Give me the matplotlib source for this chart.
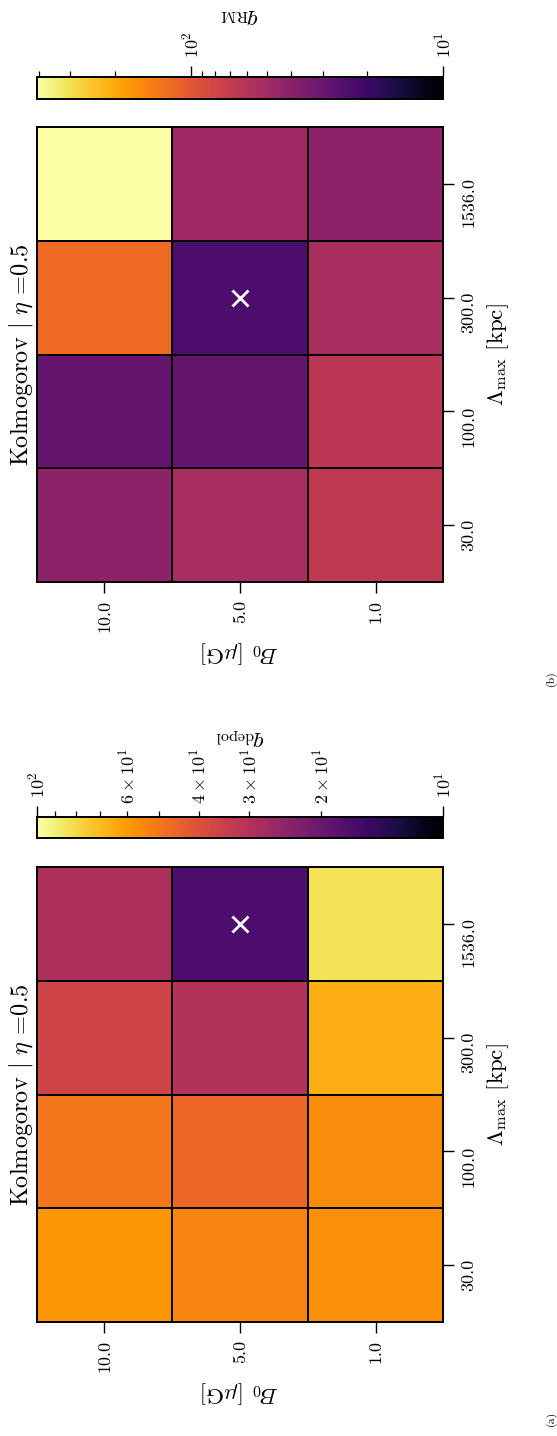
import numpy as np
import matplotlib
matplotlib.use("Agg")
import matplotlib.pyplot as plt
from matplotlib.colors import LogNorm

plt.rcParams["font.family"] = "serif"
plt.rcParams["font.serif"] = ["cmr10", "DejaVu Serif"]
plt.rcParams["mathtext.fontset"] = "cm"
plt.rcParams["axes.formatter.use_mathtext"] = True

b0_labels = ["10.0", "5.0", "1.0"]
lambda_labels = ["30.0", "100.0", "300.0", "1536.0"]

# rows: B0 = 10, 5, 1 muG ; columns: Lambda_max = 30, 100, 300, 1536 kpc
q_depol = np.array([
    [59.0, 50.0, 36.0, 29.0],
    [54.0, 46.0, 30.0, 17.0],
    [57.0, 56.0, 66.0, 83.0],
])
q_rm = np.array([
    [41.0, 29.0, 120.0, 408.0],
    [53.0, 28.8, 23.5, 49.0],
    [66.0, 64.0, 53.0, 41.0],
])

W, H = 557, 1436
fig = plt.figure(figsize=(W / 100, H / 100), dpi=100)


def box(x0, y0, x1, y1):
    # pixel box (from top-left) -> figure fraction
    return [x0 / W, 1 - y1 / H, (x1 - x0) / W, (y1 - y0) / H]


def panel(top, q, vmin, vmax, qlabel, tag):
    left, right = 36.7, 443.3
    bottom = top + 455.6
    ax = fig.add_axes(box(left, top, right, bottom))
    cax = fig.add_axes(box(left, top - 50.2, right, top - 28.2))

    norm = LogNorm(vmin=vmin, vmax=vmax)
    grid = q.T  # rows -> Lambda_max (bottom to top), columns -> B0
    mesh = ax.pcolormesh(np.arange(grid.shape[1] + 1), np.arange(grid.shape[0] + 1),
                         grid, cmap="inferno", norm=norm,
                         edgecolors="k", linewidth=1.2)

    # best-fit cell
    ib, il = np.unravel_index(np.argmin(q), q.shape)
    ax.plot(ib + 0.5, il + 0.5, "x", color="white", ms=12, mew=2)

    ax.set_xlim(0, grid.shape[1])
    ax.set_ylim(0, grid.shape[0])
    ax.set_xticks(np.arange(grid.shape[1]) + 0.5, b0_labels)
    ax.set_yticks(np.arange(grid.shape[0]) + 0.5, lambda_labels)
    ax.yaxis.tick_right()
    ax.yaxis.set_label_position("right")
    ax.tick_params(length=8, width=1.0, labelsize=13, pad=5, labelrotation=90)
    for s in ax.spines.values():
        s.set_linewidth(1.4)
    ax.set_xlabel(r"$B_0$ [$\mu$G]", fontsize=16.5, rotation=180, labelpad=5)
    ax.set_ylabel(r"$\Lambda_{\max}$ [kpc]", fontsize=16.5, rotation=90, labelpad=6)

    cb = fig.colorbar(mesh, cax=cax, orientation="horizontal")
    cax.invert_xaxis()
    cax.xaxis.set_ticks_position("top")
    cax.xaxis.set_label_position("top")
    cax.tick_params(axis="x", which="major", length=8, width=1.0, labelsize=13,
                    pad=5, labelrotation=90)
    cax.tick_params(axis="x", which="minor", length=4.3, width=0.9, labelsize=13,
                    pad=5, labelrotation=90)
    cb.outline.set_linewidth(1.4)
    cb.set_label(qlabel, fontsize=16.5, rotation=180, labelpad=8)

    fig.text(21 / W, 1 - (top + bottom) / 2 / H, r"Kolmogorov $|$ $\eta$ =0.5",
             fontsize=17.5, rotation=90, ha="center", va="center")
    fig.text(551 / W, 1 - (bottom + 96) / H, tag, fontsize=8.5,
             rotation=90, ha="center", va="center")


panel(126.7, q_rm, 10, q_rm.max(), r"$q_{\mathrm{RM}}$", "(b)")
panel(866.7, q_depol, 10, 100, r"$q_{\mathrm{depol}}$", "(a)")

fig.savefig("out.png", dpi=100)
